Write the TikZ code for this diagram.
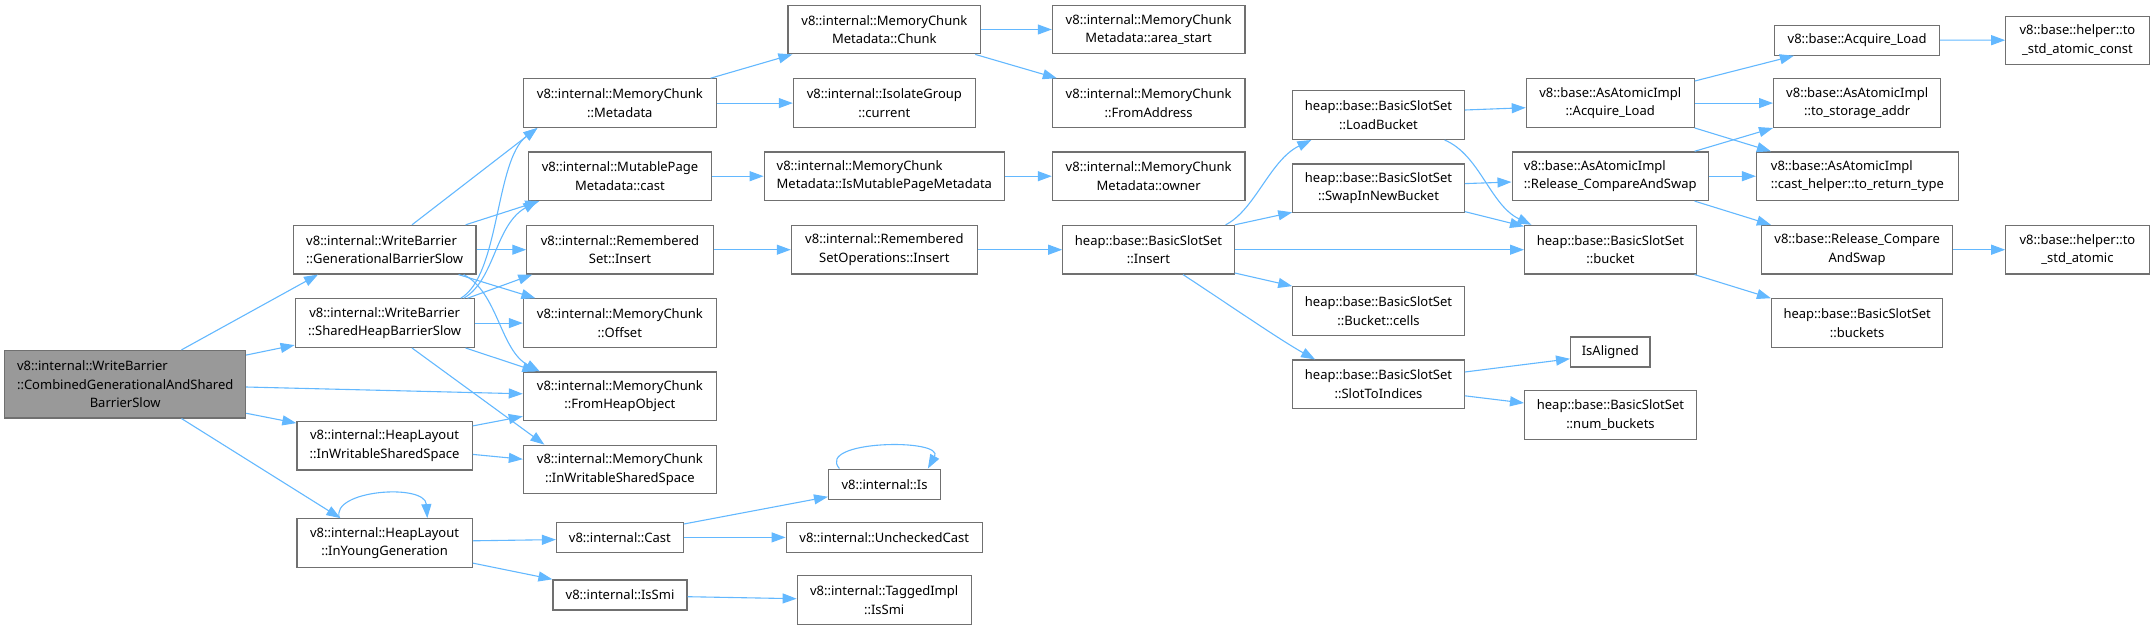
\documentclass[tikz,border=0pt]{standalone}
\usepackage{fontspec}
\setmainfont{Noto Sans}
\usetikzlibrary{arrows.meta,calc}
\definecolor{edgec}{HTML}{63B8FF}
\definecolor{borderc}{HTML}{707070}
\definecolor{mainfill}{HTML}{999999}
\newcommand\leftln[2]{\rlap{#1}\hphantom{#2}}
\begin{document}
\begin{tikzpicture}[x=1pt,y=-1pt,
  box/.style={draw=borderc,line width=1.2pt,fill=white,inner sep=0pt,align=center,
    font=\fontsize{13}{18.5}\selectfont,minimum height=48.6pt},
  onebox/.style={box,minimum height=30pt},
  mainbox/.style={box,fill=mainfill,minimum height=67.5pt},
  edge/.style={draw=edgec,line width=1.1pt,-{Triangle[length=14pt,width=10pt]}}]
\useasboundingbox (0,0) rectangle (2155,630);
% nodes
\node[mainbox,minimum width=240.8pt] (main) at (125.2,384.2) {\leftln{v8::internal::WriteBarrier}{::CombinedGenerationalAndShared}\\::CombinedGenerationalAndShared\\BarrierSlow};
\node[box,minimum width=182.6pt] (gbs) at (384.7,249.7) {\leftln{v8::internal::WriteBarrier}{::GenerationalBarrierSlow}\\::GenerationalBarrierSlow};
\node[box,minimum width=179pt] (shbs) at (384.7,323.1) {v8::internal::WriteBarrier\\::SharedHeapBarrierSlow};
\node[box,minimum width=175.3pt] (hlws) at (384.55,445.6) {v8::internal::HeapLayout\\::InWritableSharedSpace};
\node[box,minimum width=175.3pt] (hlyg) at (384.55,543) {v8::internal::HeapLayout\\::InYoungGeneration};
\node[box,minimum width=192.9pt] (meta) at (619.85,103.1) {v8::internal::MemoryChunk\\::Metadata};
\node[box,minimum width=182.9pt] (mpcast) at (620,176.2) {v8::internal::MutablePage\\Metadata::cast};
\node[box,minimum width=186.3pt] (rsins) at (620,249.7) {v8::internal::Remembered\\Set::Insert};
\node[box,minimum width=192.9pt] (offset) at (619.85,323.1) {v8::internal::MemoryChunk\\::Offset};
\node[box,minimum width=192.9pt] (fho) at (619.85,396.35) {v8::internal::MemoryChunk\\::FromHeapObject};
\node[box,minimum width=192.9pt] (mciws) at (619.85,469.5) {v8::internal::MemoryChunk\\::InWritableSharedSpace};
\node[onebox,minimum width=126.7pt] (cast) at (619.85,537.4) {v8::internal::Cast};
\node[onebox,minimum width=134pt] (issmi) at (620,594.9) {v8::internal::IsSmi};
\node[box,minimum width=192.9pt] (chunk) at (884.35,29.5) {v8::internal::MemoryChunk\\Metadata::Chunk};
\node[box,minimum width=181.9pt] (igc) at (884.35,103.1) {v8::internal::IsolateGroup\\::current};
\node[box,minimum width=240.3pt] (ismpm) at (884.35,176.2) {\leftln{v8::internal::MemoryChunk}{Metadata::IsMutablePageMetadata}\\Metadata::IsMutablePageMetadata};
\node[box,minimum width=185.9pt] (rsoi) at (884.35,249.7) {v8::internal::Remembered\\SetOperations::Insert};
\node[onebox,minimum width=111.9pt] (isn) at (884.55,484.15) {v8::internal::Is};
\node[onebox,minimum width=196pt] (unch) at (884.2,537.4) {v8::internal::UncheckedCast};
\node[box,minimum width=173.9pt,minimum height=49pt] (tis) at (884.15,600.3) {v8::internal::TaggedImpl\\::IsSmi};
\node[box,minimum width=192.5pt] (areast) at (1148.65,29.5) {v8::internal::MemoryChunk\\Metadata::area\_start};
\node[box,minimum width=192.5pt] (fromaddr) at (1148.65,103.1) {v8::internal::MemoryChunk\\::FromAddress};
\node[box,minimum width=192.5pt] (owner) at (1148.65,176.2) {v8::internal::MemoryChunk\\Metadata::owner};
\node[box,minimum width=171.4pt] (bsins) at (1148.5,249.7) {heap::base::BasicSlotSet\\::Insert};
\node[box,minimum width=171.4pt] (loadb) at (1378.5,115.1) {heap::base::BasicSlotSet\\::LoadBucket};
\node[box,minimum width=171.4pt] (swap) at (1378.5,188.2) {heap::base::BasicSlotSet\\::SwapInNewBucket};
\node[box,minimum width=171.4pt] (cells) at (1378.5,311) {heap::base::BasicSlotSet\\::Bucket::cells};
\node[box,minimum width=171.4pt] (s2i) at (1378.5,384.3) {heap::base::BasicSlotSet\\::SlotToIndices};
\node[box,minimum width=167.9pt] (aaload) at (1610.25,103.1) {v8::base::AsAtomicImpl\\::Acquire\_Load};
\node[box,minimum width=196.3pt] (aarcas) at (1610.25,176.2) {\leftln{v8::base::AsAtomicImpl}{::Release\_CompareAndSwap}\\::Release\_CompareAndSwap};
\node[box,minimum width=171.7pt] (bucket) at (1610.45,249.7) {heap::base::BasicSlotSet\\::bucket};
\node[onebox,minimum width=79.4pt] (isal) at (1610.3,351.95) {IsAligned};
\node[box,minimum width=171.7pt] (numb) at (1610.45,414.85) {heap::base::BasicSlotSet\\::num\_buckets};
\node[onebox,minimum width=164.6pt] (bload) at (1857.1,40.15) {v8::base::Acquire\_Load};
\node[box,minimum width=167.1pt] (tsa) at (1857.15,103.1) {v8::base::AsAtomicImpl\\::to\_storage\_addr};
\node[box,minimum width=201.7pt] (trt) at (1857.35,176.2) {\leftln{v8::base::AsAtomicImpl}{::cast\_helper::to\_return\_type}\\::cast\_helper::to\_return\_type};
\node[box,minimum width=191.3pt] (brcas) at (1857.15,249.7) {v8::base::Release\_Compare\\AndSwap};
\node[box,minimum width=171.3pt] (buckets) at (1857.15,323.1) {heap::base::BasicSlotSet\\::buckets};
\node[box,minimum width=143.3pt,minimum height=48.2pt] (tsac) at (2077.45,40.2) {v8::base::helper::to\\\_std\_atomic\_const};
\node[box,minimum width=143.3pt] (tsa2) at (2077.45,249.7) {v8::base::helper::to\\\_std\_atomic};
% edges from main
\draw[edge] ($(main.north)+(56.3,0)$) -- ($(gbs.south west)+(25.2,0)$);
\draw[edge] ($(main.north east)+(0,5.2)$) -- ($(shbs.south west)+(0,-2.9)$);
\draw[edge] ($(main.east)+(0,2.8)$) -- ($(fho.west)+(0,-2.55)$);
\draw[edge] ($(main.south east)+(0,-5.3)$) -- ($(hlws.north west)+(0,2.4)$);
\draw[edge] ($(main.south)+(56.3,0)$) -- ($(hlyg.north west)+(44.1,0)$);
% gbs
\draw[edge] ($(gbs.north)+(27.3,0)$) -- ($(meta.south west)+(14.6,0)$);
\draw[edge] ($(gbs.north east)+(-11,0)$) -- ($(mpcast.south west)+(11.4,0)$);
\draw[edge] (gbs.east) -- (rsins.west);
\draw[edge] ($(gbs.south east)+(-18,0)$) -- ($(offset.north west)+(12.6,0)$);
\draw[edge] ($(gbs.south east)+(-13,0)$) .. controls (498,292) and (500,350) .. ($(fho.north west)+(17,0)$);
% shbs
\draw[edge] ($(shbs.north east)+(-14,0)$) .. controls (500,275) and (495,160) .. ($(meta.south west)+(14.6,0)$);
\draw[edge] ($(shbs.north east)+(-11,0)$) .. controls (495,280) and (495,225) .. ($(mpcast.south west)+(9.4,0)$);
\draw[edge] ($(shbs.north east)+(-7.2,0)$) -- ($(rsins.south west)+(6,0)$);
\draw[edge] (shbs.east) -- (offset.west);
\draw[edge] ($(shbs.south east)+(-9.2,0)$) -- ($(fho.north west)+(13.6,0)$);
\draw[edge] ($(shbs.south)+(27.3,0)$) -- ($(mciws.north west)+(21.6,0)$);
% hlws
\draw[edge] ($(hlws.north east)+(0,5.2)$) -- ($(fho.south west)+(0,-4.9)$);
\draw[edge] ($(hlws.east)+(0,8.8)$) -- ($(mciws.west)+(0,-10.3)$);
% hlyg
\draw[edge] ($(hlyg.north west)+(43.1,0)$) .. controls (330,490) and (425,483) .. ($(hlyg.north west)+(131,0)$);
\draw[edge] ($(hlyg.east)+(0,-2.2)$) -- ($(cast.west)+(0,2.2)$);
\draw[edge] ($(hlyg.south east)+(0,-4.8)$) -- (issmi.north west);
% column C -> D
\draw[edge] ($(meta.north east)+(-6.3,0)$) -- ($(chunk.south west)+(5.1,0)$);
\draw[edge] (meta.east) -- (igc.west);
\draw[edge] (mpcast.east) -- (ismpm.west);
\draw[edge] (rsins.east) -- (rsoi.west);
\draw[edge] ($(cast.north east)+(0,2.2)$) -- ($(isn.south west)+(0,-3)$);
\draw[edge] (cast.east) -- (unch.west);
\draw[edge] ($(isn.north west)+(11.4,0)$) .. controls (815,440) and (945,438) .. ($(isn.north east)+(-13.2,0)$);
\draw[edge] ($(issmi.east)+(0,1.8)$) -- ($(tis.west)+(0,-1.6)$);
% D -> E
\draw[edge] (chunk.east) -- (areast.west);
\draw[edge] ($(chunk.south east)+(-6.2,0)$) -- ($(fromaddr.north west)+(5,0)$);
\draw[edge] (ismpm.east) -- (owner.west);
\draw[edge] (rsoi.east) -- (bsins.west);
% E -> F
\draw[edge] ($(bsins.north east)+(-9.2,0)$) .. controls (1255,210) and (1270,160) .. ($(loadb.south west)+(19.2,0)$);
\draw[edge] (bsins.north east) -- ($(swap.south west)+(0,-0.8)$);
\draw[edge] (bsins.east) -- (bucket.west);
\draw[edge] ($(bsins.south east)+(0,-1.6)$) -- (cells.north west);
\draw[edge] ($(bsins.south)+(34.5,0)$) .. controls (1225,302) and (1280,340) .. ($(s2i.north west)+(22.9,0)$);
% F -> G
\draw[edge] ($(loadb.east)+(0,-5.1)$) -- ($(aaload.west)+(0,4.6)$);
\draw[edge] ($(loadb.south east)+(-20.2,0)$) .. controls (1480,155) and (1490,205) .. ($(bucket.north west)+(7.4,0)$);
\draw[edge] ($(swap.east)+(0,-4.6)$) -- ($(aarcas.west)+(0,5.8)$);
\draw[edge] ($(swap.south east)+(0,-1.5)$) -- ($(bucket.north west)+(0,1.6)$);
\draw[edge] ($(s2i.east)+(0,-12.3)$) -- ($(isal.west)+(0,6.85)$);
\draw[edge] ($(s2i.east)+(0,11.5)$) -- ($(numb.west)+(0,-11.85)$);
% G -> H
\draw[edge] ($(aaload.north east)+(0,2.8)$) -- ($(bload.south west)+(19.7,0)$);
\draw[edge] (aaload.east) -- (tsa.west);
\draw[edge] (aaload.south east) -- ($(trt.north west)+(15,0)$);
\draw[edge] ($(aarcas.north east)+(-14.4,0)$) -- (tsa.south west);
\draw[edge] (aarcas.east) -- (trt.west);
\draw[edge] ($(aarcas.south east)+(-14.4,0)$) -- ($(brcas.north west)+(10,0)$);
\draw[edge] ($(bucket.south east)+(-2.3,0)$) -- (buckets.north west);
% H -> I
\draw[edge] (bload.east) -- (tsac.west);
\draw[edge] (brcas.east) -- (tsa2.west);
\end{tikzpicture}
\end{document}
